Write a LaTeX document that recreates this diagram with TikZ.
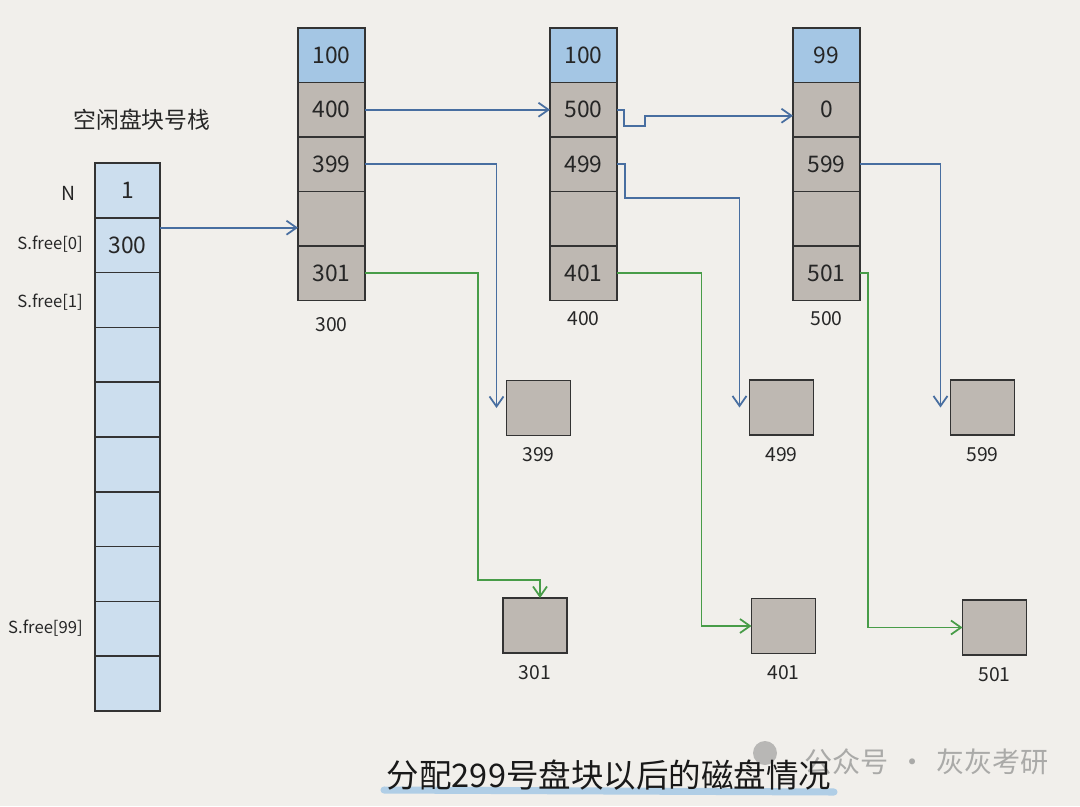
\documentclass[tikz,border=0pt]{standalone}
\usepackage{fontspec}
\setmainfont{Noto Sans CJK SC}
\usetikzlibrary{arrows.meta,positioning}
\definecolor{paper}{RGB}{241,239,235}
\definecolor{stackblue}{RGB}{204,222,238}
\definecolor{headblue}{RGB}{164,198,228}
\definecolor{diskgray}{RGB}{190,184,178}
\definecolor{linkblue}{RGB}{72,110,160}
\definecolor{linkgreen}{RGB}{72,156,72}
\definecolor{markgray}{RGB}{170,170,168}
\definecolor{brushblue}{RGB}{176,206,230}
\tikzset{
  cell/.style={draw=black!80, line width=1pt, inner sep=0pt, outer sep=0pt, text=black!85, font=\fontsize{13}{15}\selectfont},
  stackcell/.style={cell, fill=stackblue, minimum width=1.3cm, minimum height=1.096cm},
  headcell/.style={cell, fill=headblue, minimum width=1.34cm, minimum height=1.09cm},
  datacell/.style={cell, fill=diskgray, minimum width=1.34cm, minimum height=1.09cm},
  diskbox/.style={cell, fill=diskgray, minimum width=1.28cm, minimum height=1.1cm},
  tag/.style={text=black!85, font=\fontsize{11}{13}\selectfont},
  bluelink/.style={draw=linkblue, line width=1pt, -{Straight Barb[length=2mm,width=2.8mm]}},
  greenlink/.style={bluelink, draw=linkgreen},
}

\begin{document}
\begin{tikzpicture}[x=0.02cm, y=-0.02cm]
\fill[paper] (0,0) rectangle (1080,806);
\useasboundingbox (0,0) rectangle (1080,806);
% free block stack
\node[text=black!85, font=\fontsize{13}{15}\selectfont] (title) at (142,120) {空闲盘块号栈};
\foreach \t [count=\i] in {1,300,{},{},{},{},{},{},{},{}} {\node[stackcell, anchor=north] (stk-\i) at (127.5,{163+54.8*(\i-1)}) {\t};}
\node[tag, anchor=east] (lbl-n) at (82,193) {N};
\foreach \t/\y [count=\k] in {{S.free[0]}/244,{S.free[1]}/302,{S.free[99]}/628} {\node[tag, anchor=east, font=\fontsize{9.5}{12}\selectfont] (sfree\k) at (89,\y) {\t};}
% index blocks
\foreach \n/\x/\hd/\ta/\tb/\tc/\g in {300/331.5/100/400/399/301/2.2mm, 400/583.5/100/500/499/401/0.9mm, 500/826.5/99/0/599/501/0.9mm} {
  \node[headcell, anchor=north] (blk\n-1) at (\x,28) {\hd};
  \node[datacell, below=0pt of blk\n-1] (blk\n-2) {\ta};
  \node[datacell, below=0pt of blk\n-2] (blk\n-3) {\tb};
  \node[datacell, below=0pt of blk\n-3] (blk\n-4) {};
  \node[datacell, below=0pt of blk\n-4] (blk\n-5) {\tc};
  \node[tag, below=\g of blk\n-5] (lbl\n) {\n};
}
% free disk blocks
\foreach \d/\x/\y in {399/538.5/408, 499/781.5/407.5, 599/982.5/407.5, 301/535/625.5, 401/783.5/626, 501/994.5/627.5} {
  \node[diskbox] (disk\d) at (\x,\y) {};
  \node[tag, below=1.2mm of disk\d] (lbl-disk\d) {\d};
}
% links
\draw[bluelink] ([yshift=3.5mm]stk-2.east) -- ([yshift=3.5mm]stk-2.east -| blk300-4.west);
\draw[bluelink] (blk300-2.east) -- (blk400-2.west);
\draw[bluelink] (blk400-2.east) -- ++(7,0) -- ++(0,16) -- ++(21,0) |- ([yshift=-1.2mm]blk500-2.west);
\draw[bluelink] (blk300-3.east) -| ([xshift=-2mm]disk399.west);
\draw[bluelink] (blk400-3.east) -- ++(8,0) -- ++(0,34) -| ([xshift=-2mm]disk499.west);
\draw[bluelink] (blk500-3.east) -| ([xshift=-2mm]disk599.west);
\draw[greenlink] (blk300-5.east) -| ([shift={(-0.5cm,0.36cm)}]disk301.north west) -| ([xshift=1mm]disk301.north);
\draw[greenlink] (blk400-5.east) -| ([xshift=-1cm]disk401.west) -- (disk401.west);
\draw[greenlink] (blk500-5.east) -- ++(8,0) |- (disk501.west);
% caption and mark
\fill[markgray, opacity=0.8] (765,753) circle (12);
\node[text=markgray, anchor=west, font=\fontsize{16}{19}\selectfont] (mark) at (798,762) {公众号\hspace{0.35em}·\hspace{0.35em}灰灰考研};
\draw[brushblue, line width=4pt, line cap=round] (384,790) -- (834,792);
\node[text=black!90, font=\fontsize{18.5}{22}\selectfont] (caption) at (609,775) {分配299号盘块以后的磁盘情况};
\end{tikzpicture}
\end{document}
